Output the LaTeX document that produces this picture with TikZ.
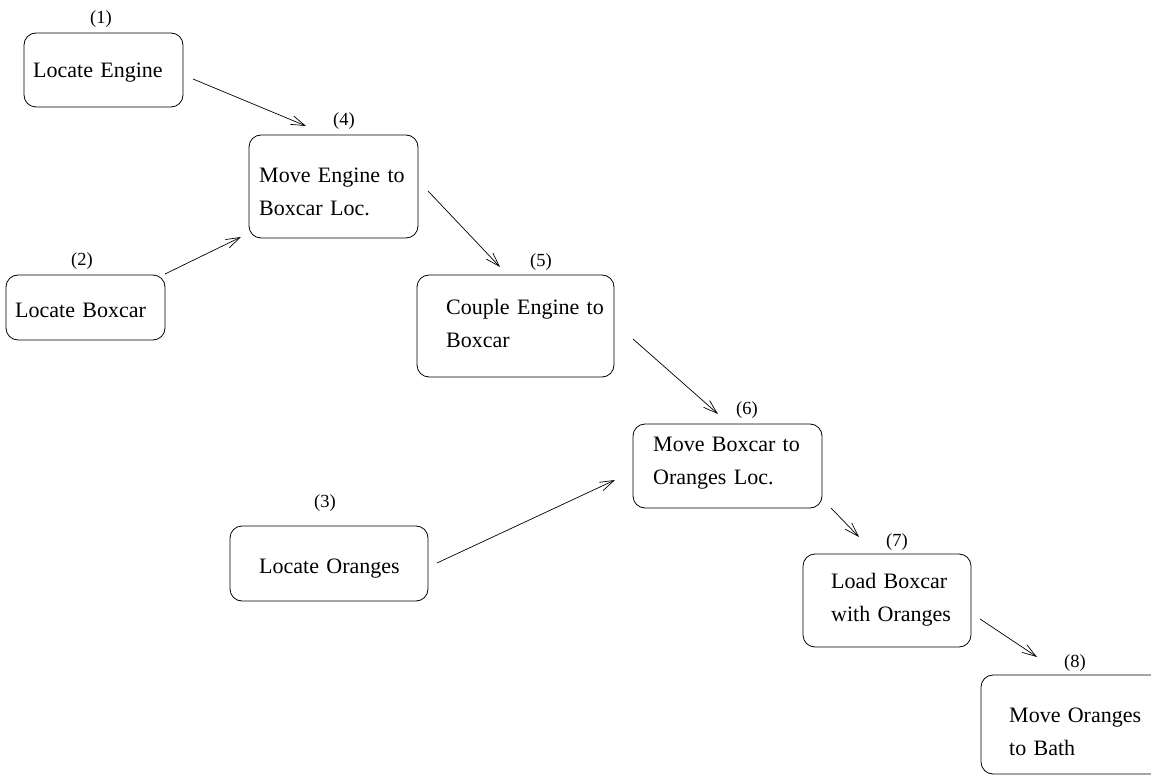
\documentclass[tikz,border=0pt]{standalone}
\usepackage{fontspec}
\setmainfont{Liberation Serif}
\usetikzlibrary{arrows.meta}
\begin{document}
\begin{tikzpicture}[x=1pt,y=-1pt,
  box/.style={draw, rounded corners=12pt, line width=0.8pt, inner sep=0pt},
  txt/.style={anchor=base west, inner sep=0pt, text width=220pt, align=left, font=\fontsize{22}{33}\selectfont},
  num/.style={inner sep=0pt, font=\fontsize{18.5}{20}\selectfont},
  arr/.style={-{Straight Barb[length=14pt,width=9pt]}, line width=0.7pt}]
\useasboundingbox (0,0) rectangle (1151,775);
% boxes
\node[box, minimum width=159pt, minimum height=74pt] (b1) at (103.5,70) {};
\node[box, minimum width=169pt, minimum height=103pt] (b4) at (333.5,186.5) {};
\node[box, minimum width=159pt, minimum height=65pt] (b2) at (85.5,307.5) {};
\node[box, minimum width=197pt, minimum height=102pt] (b5) at (515.5,326) {};
\node[box, minimum width=189pt, minimum height=84pt] (b6) at (727.5,466) {};
\node[box, minimum width=198pt, minimum height=75pt] (b3) at (329,563.5) {};
\node[box, minimum width=168pt, minimum height=93pt] (b7) at (887,600.5) {};
\node[box, minimum width=209pt, minimum height=99pt] (b8) at (1085.5,724.5) {};
% texts
\node[txt] (t1) at (33,78) {Locate Engine};
\node[txt] (t4) at (259,183) {Move Engine to\\Boxcar Loc.};
\node[txt] (t2) at (15,318) {Locate Boxcar};
\node[txt] (t5) at (446,315) {Couple Engine to\\Boxcar};
\node[txt] (t6) at (653,451) {Move Boxcar to\\Oranges Loc.};
\node[txt] (t3) at (259,573) {Locate Oranges};
\node[txt] (t7) at (831,588) {Load Boxcar\\with Oranges};
\node[txt] (t8) at (1009,722) {Move Oranges\\to Bath};
% labels
\node[num] (l1) at (101,19) {(1)};
\node[num] (l4) at (344,121) {(4)};
\node[num] (l2) at (82,261) {(2)};
\node[num] (l5) at (541,262) {(5)};
\node[num] (l6) at (747,410) {(6)};
\node[num] (l3) at (325,503) {(3)};
\node[num] (l7) at (897,542) {(7)};
\node[num] (l8) at (1075,663) {(8)};
% connector ends
\coordinate (a1s) at (193,79);  \coordinate (a1e) at (306,126);
\coordinate (a2s) at (165,274); \coordinate (a2e) at (241,237);
\coordinate (a4s) at (428,191); \coordinate (a4e) at (500,267);
\coordinate (a5s) at (633,339); \coordinate (a5e) at (718,414);
\coordinate (a3s) at (437,563); \coordinate (a3e) at (615,480);
\coordinate (a6s) at (831,508); \coordinate (a6e) at (859,537);
\coordinate (a7s) at (980,619); \coordinate (a7e) at (1037,657);
\draw[arr] (a1s) -- (a1e);
\draw[arr] (a2s) -- (a2e);
\draw[arr] (a4s) -- (a4e);
\draw[arr] (a5s) -- (a5e);
\draw[arr] (a3s) -- (a3e);
\draw[arr] (a6s) -- (a6e);
\draw[arr] (a7s) -- (a7e);
\end{tikzpicture}
\end{document}
